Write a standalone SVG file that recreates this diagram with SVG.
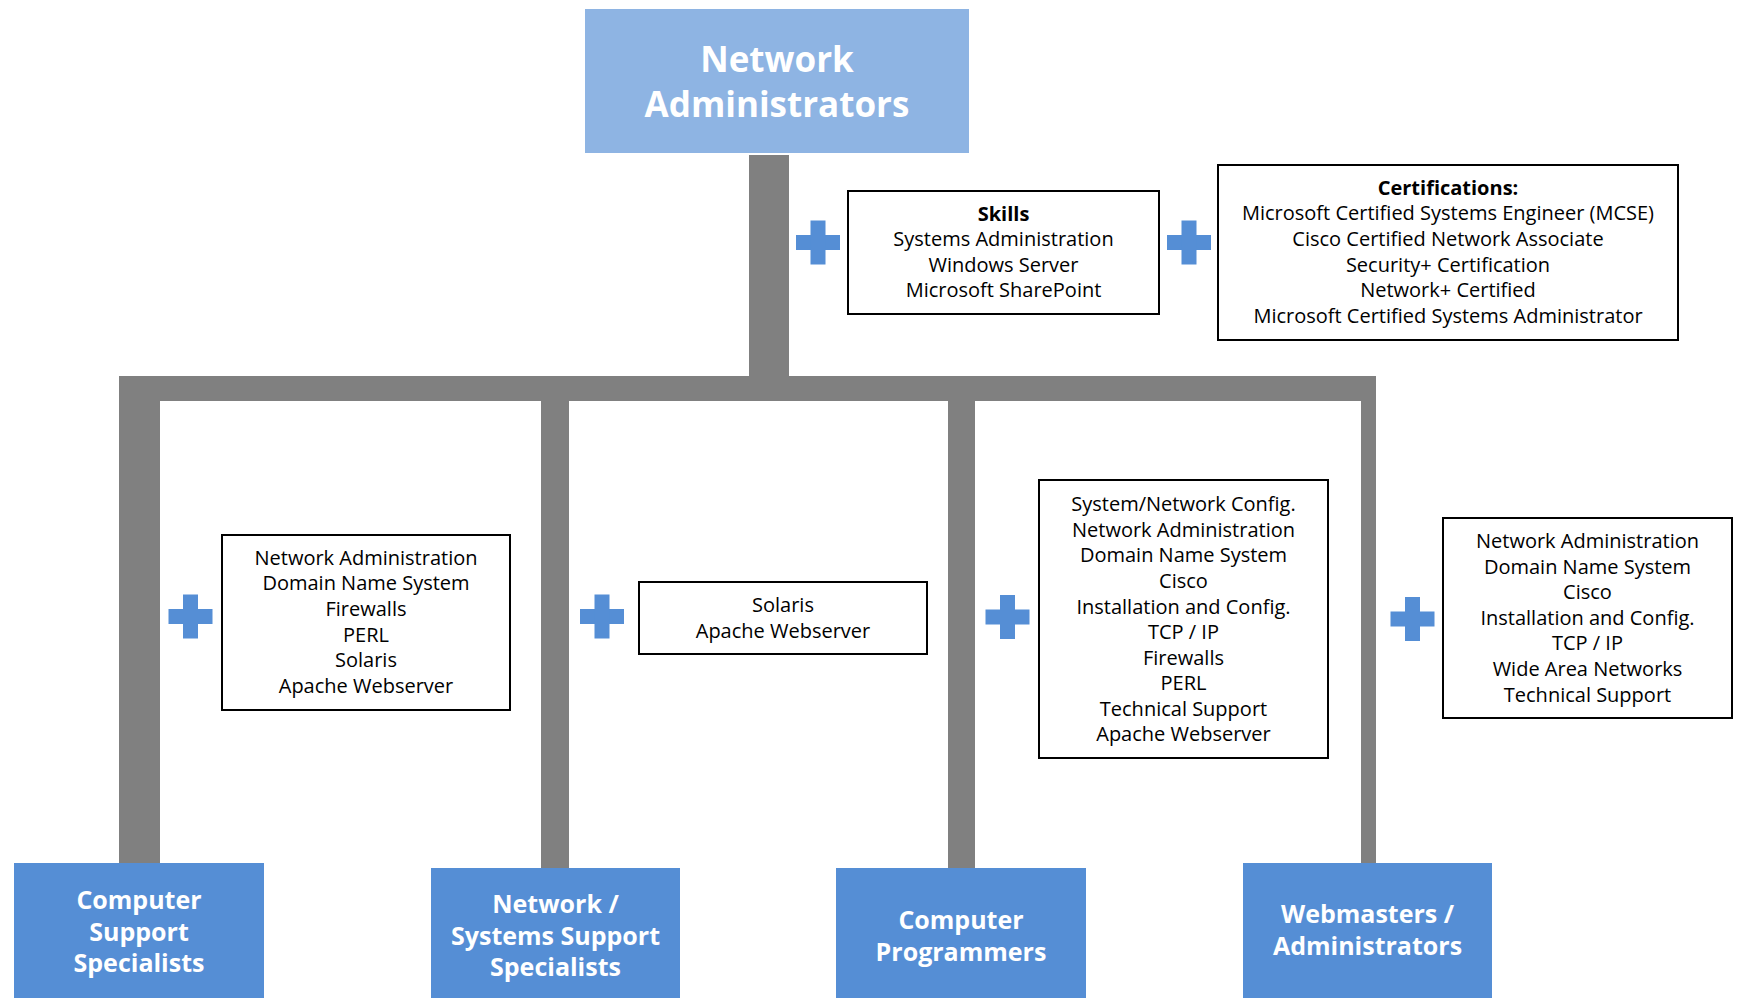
<svg xmlns="http://www.w3.org/2000/svg" width="1737" height="998" viewBox="0 0 1737 998">
<style>
.bar{fill:#808080}
.top{fill:#8EB4E3}
.role{fill:#558ED5}
.title{font-family:"Open Sans","Noto Sans",sans-serif;font-weight:bold;fill:#FFFFFF;text-anchor:middle}
.box{fill:#FFFFFF;stroke:#000000;stroke-width:2}
.txt{font-family:"Open Sans","Noto Sans",sans-serif;font-size:20px;fill:#000000;text-anchor:middle}
.b{font-weight:bold}
.plus{fill:#558ED5}
</style>
<defs>
<g id="plus">
<rect class="plus" x="-22" y="-7.5" width="44" height="15"/>
<rect class="plus" x="-7.5" y="-22" width="15" height="44"/>
</g>
</defs>
<rect width="1737" height="998" fill="#FFFFFF"/>
<g id="connectors">
<rect class="bar" x="749" y="155" width="40" height="222"/>
<rect class="bar" x="119" y="376" width="1257" height="25"/>
<rect class="bar" x="119" y="376" width="41" height="487"/>
<rect class="bar" x="541" y="376" width="28" height="493"/>
<rect class="bar" x="948" y="376" width="27" height="493"/>
<rect class="bar" x="1361" y="376" width="15" height="487"/>
</g>
<g id="node-network-administrators">
<rect class="top" x="585" y="9" width="384" height="144"/>
<text class="title" x="777" y="72" font-size="35">Network</text>
<text class="title" x="777" y="117" font-size="35">Administrators</text>
</g>
<g id="node-skills">
<use href="#plus" x="818" y="242.5"/>
<rect class="box" x="848" y="191" width="311" height="123"/>
<text class="txt" x="1003.5"><tspan class="b" x="1003.5" y="221">Skills</tspan><tspan x="1003.5" y="246">Systems Administration</tspan><tspan x="1003.5" y="272">Windows Server</tspan><tspan x="1003.5" y="297">Microsoft SharePoint</tspan></text>
</g>
<g id="node-certifications">
<use href="#plus" x="1189" y="242.5"/>
<rect class="box" x="1218" y="165" width="460" height="175"/>
<text class="txt"><tspan class="b" x="1448" y="195">Certifications:</tspan><tspan x="1448" y="220">Microsoft Certified Systems Engineer (MCSE)</tspan><tspan x="1448" y="246">Cisco Certified Network Associate</tspan><tspan x="1448" y="272">Security+ Certification</tspan><tspan x="1448" y="297">Network+ Certified</tspan><tspan x="1448" y="323">Microsoft Certified Systems Administrator</tspan></text>
</g>
<g id="node-css-skills">
<use href="#plus" x="190.5" y="616.5"/>
<rect class="box" x="222" y="535" width="288" height="175"/>
<text class="txt"><tspan x="366" y="565">Network Administration</tspan><tspan x="366" y="590">Domain Name System</tspan><tspan x="366" y="616">Firewalls</tspan><tspan x="366" y="642">PERL</tspan><tspan x="366" y="667">Solaris</tspan><tspan x="366" y="693">Apache Webserver</tspan></text>
</g>
<g id="node-nss-skills">
<use href="#plus" x="602" y="616.5"/>
<rect class="box" x="639" y="582" width="288" height="72"/>
<text class="txt"><tspan x="783" y="612">Solaris</tspan><tspan x="783" y="638">Apache Webserver</tspan></text>
</g>
<g id="node-cp-skills">
<use href="#plus" x="1007.5" y="617"/>
<rect class="box" x="1039" y="480" width="289" height="278"/>
<text class="txt"><tspan x="1183.5" y="511">System/Network Config.</tspan><tspan x="1183.5" y="537">Network Administration</tspan><tspan x="1183.5" y="562">Domain Name System</tspan><tspan x="1183.5" y="588">Cisco</tspan><tspan x="1183.5" y="614">Installation and Config.</tspan><tspan x="1183.5" y="639">TCP / IP</tspan><tspan x="1183.5" y="665">Firewalls</tspan><tspan x="1183.5" y="690">PERL</tspan><tspan x="1183.5" y="716">Technical Support</tspan><tspan x="1183.5" y="741">Apache Webserver</tspan></text>
</g>
<g id="node-wa-skills">
<use href="#plus" x="1412.5" y="619"/>
<rect class="box" x="1443" y="518" width="289" height="200"/>
<text class="txt"><tspan x="1587.5" y="548">Network Administration</tspan><tspan x="1587.5" y="574">Domain Name System</tspan><tspan x="1587.5" y="599">Cisco</tspan><tspan x="1587.5" y="625">Installation and Config.</tspan><tspan x="1587.5" y="650">TCP / IP</tspan><tspan x="1587.5" y="676">Wide Area Networks</tspan><tspan x="1587.5" y="702">Technical Support</tspan></text>
</g>
<g id="node-computer-support-specialists">
<rect class="role" x="14" y="863" width="250" height="135"/>
<text class="title" font-size="25"><tspan x="139" y="909">Computer</tspan><tspan x="139" y="941">Support</tspan><tspan x="139" y="972">Specialists</tspan></text>
</g>
<g id="node-network-systems-support-specialists">
<rect class="role" x="431" y="868" width="249" height="130"/>
<text class="title" font-size="25"><tspan x="555.5" y="913">Network /</tspan><tspan x="555.5" y="945">Systems Support</tspan><tspan x="555.5" y="976">Specialists</tspan></text>
</g>
<g id="node-computer-programmers">
<rect class="role" x="836" y="868" width="250" height="130"/>
<text class="title" font-size="25"><tspan x="961" y="929">Computer</tspan><tspan x="961" y="961">Programmers</tspan></text>
</g>
<g id="node-webmasters-administrators">
<rect class="role" x="1243" y="863" width="249" height="135"/>
<text class="title" font-size="25"><tspan x="1367.5" y="923">Webmasters /</tspan><tspan x="1367.5" y="955">Administrators</tspan></text>
</g>
</svg>
